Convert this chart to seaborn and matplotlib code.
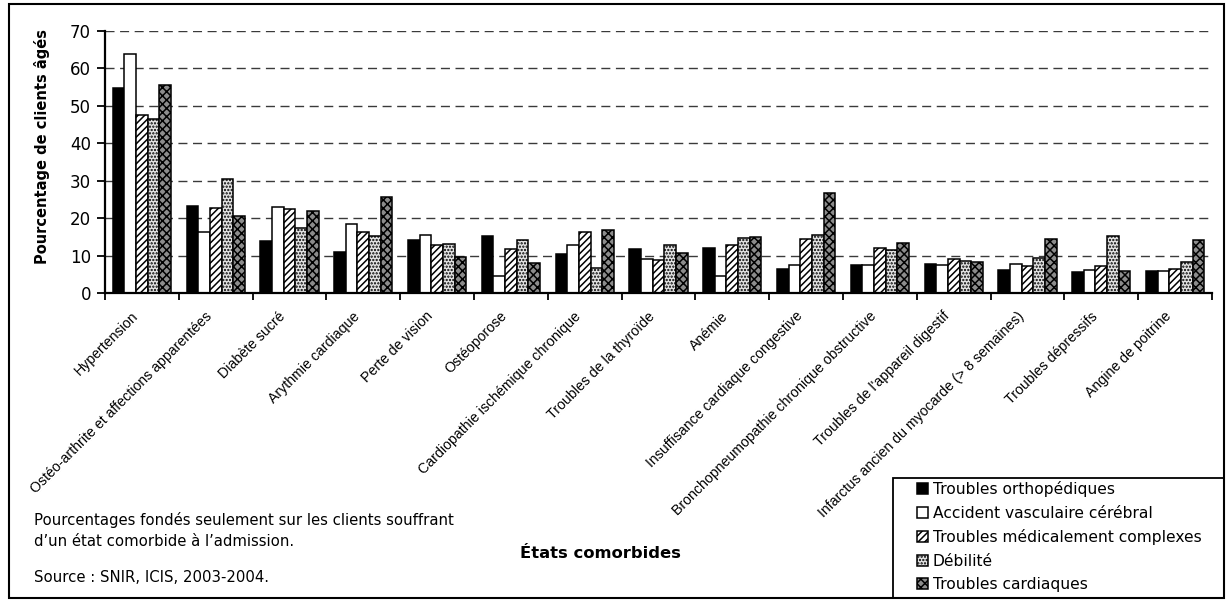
import numpy as np
import pandas as pd
import matplotlib
matplotlib.use("Agg")
import matplotlib.pyplot as plt
import matplotlib.transforms as mtransforms
import seaborn as sns
from matplotlib.patches import Patch, Rectangle

# Comorbid conditions (x categories)
categories = [
    "Hypertension",
    "Ostéo-arthrite et affections apparentées",
    "Diabète sucré",
    "Arythmie cardiaque",
    "Perte de vision",
    "Ostéoporose",
    "Cardiopathie ischémique chronique",
    "Troubles de la thyroïde",
    "Anémie",
    "Insuffisance cardiaque congestive",
    "Bronchopneumopathie chronique obstructive",
    "Troubles de l'appareil digestif",
    "Infarctus ancien du myocarde (> 8 semaines)",
    "Troubles dépressifs",
    "Angine de poitrine",
]

series = [
    "Troubles orthopédiques",
    "Accident vasculaire cérébral",
    "Troubles médicalement complexes",
    "Débilité",
    "Troubles cardiaques",
]

# Percentage of older clients, per rehabilitation group
orthopediques = [54.7, 23.3, 13.9, 11.1, 14.1, 15.4, 10.5, 11.9, 12.2, 6.4, 7.5, 7.9, 6.1, 5.7, 5.9]
avc = [63.8, 16.3, 23.0, 18.6, 15.6, 4.7, 12.9, 9.1, 4.6, 7.5, 7.5, 7.5, 7.7, 6.3, 5.9]
complexes = [47.7, 22.7, 22.4, 16.3, 12.9, 11.8, 16.3, 8.9, 13.0, 14.4, 12.2, 9.2, 7.3, 7.3, 6.5]
debilite = [46.6, 30.5, 17.4, 15.4, 13.2, 14.1, 6.7, 12.9, 14.7, 15.6, 11.6, 8.7, 9.4, 15.2, 8.3]
cardiaques = [55.5, 20.5, 22.0, 25.6, 9.8, 8.2, 16.8, 10.8, 15.1, 26.9, 13.4, 8.4, 14.4, 6.0, 14.2]

y_ticks = [0, 10, 20, 30, 40, 50, 60, 70]

values = [orthopediques, avc, complexes, debilite, cardiaques]
df = pd.DataFrame(
    [(c, s, v) for s, vals in zip(series, values) for c, v in zip(categories, vals)],
    columns=["etat", "groupe", "pct"],
)

# Monochrome fills and hatches for each group
faces = ["black", "white", "white", "#e4e4e4", "#8c8c8c"]
hatches = [None, None, "/////", ".....", "xxxx"]

sns.set_theme(style="white")
plt.rcParams["font.family"] = ["DejaVu Sans"]
plt.rcParams["text.color"] = "black"
plt.rcParams["hatch.linewidth"] = 1.1

W, H = 1228, 602
fig = plt.figure(figsize=(W / 100, H / 100), dpi=100)
x0, x1, ytop, ybot = 105, 1212, 31, 293.3
ax = fig.add_axes([x0 / W, 1 - ybot / H, (x1 - x0) / W, (ybot - ytop) / H])

sns.barplot(
    data=df, x="etat", y="pct", hue="groupe",
    order=categories, hue_order=series,
    palette=dict(zip(series, faces)),
    width=0.79, saturation=1, edgecolor="black", linewidth=1.1,
    legend=False, ax=ax,
)
for cont, fc, h in zip(ax.containers, faces, hatches):
    for p in cont:
        p.set_facecolor(fc)
        p.set_edgecolor("black")
        if h:
            p.set_hatch(h)

ax.set_xlim(-0.5, len(categories) - 0.5)
ax.set_ylim(0, 70)
ax.set_yticks(y_ticks)
ax.yaxis.grid(True, linestyle=(0, (6.5, 4)), color="#3a3a3a", linewidth=1)
ax.xaxis.grid(False)
ax.set_axisbelow(True)

for s in ["top", "right"]:
    ax.spines[s].set_visible(False)
for s in ["left", "bottom"]:
    ax.spines[s].set_color("black")
    ax.spines[s].set_linewidth(1.6)

# category boundaries carry the visible x ticks
ax.set_xticks(np.arange(-0.5, len(categories), 1), minor=True)
ax.tick_params(axis="x", which="minor", bottom=True, length=5, width=1.3, color="black", direction="out")
ax.tick_params(axis="x", which="major", bottom=True, length=0, pad=15)
ax.tick_params(axis="y", which="major", left=True, length=6, width=1.3, color="black",
               direction="out", labelsize=12, pad=4, labelcolor="black")
ax.set_xticks(range(len(categories)))
ax.set_xticklabels(categories, rotation=45, ha="right", va="center",
                   rotation_mode="anchor", fontsize=10.2, family="Liberation Sans", color="black")
shift = mtransforms.ScaledTranslation(-6 / 100, 0, fig.dpi_scale_trans)
for lab in ax.get_xticklabels():
    lab.set_transform(lab.get_transform() + shift)
ax.set_xlabel("")
ax.set_ylabel("")

fig.text(42 / W, 1 - 146 / H, "Pourcentage de clients âgés", rotation=90,
         ha="center", va="center", fontsize=10.5, fontweight="bold", color="black")
fig.text(600 / W, 1 - 553 / H, "États comorbides", ha="center", va="center",
         fontsize=11.8, fontweight="bold", color="black")

fig.text(34 / W, 1 - 520 / H, "Pourcentages fondés seulement sur les clients souffrant",
         ha="left", va="center", fontsize=10.7, color="black")
fig.text(34 / W, 1 - 541 / H, "d’un état comorbide à l’admission.",
         ha="left", va="center", fontsize=10.7, color="black")
fig.text(34 / W, 1 - 578 / H, "Source : SNIR, ICIS, 2003-2004.",
         ha="left", va="center", fontsize=10.7, color="black")

handles = [Patch(facecolor=fc, edgecolor="black", hatch=h, linewidth=1.1)
           for fc, h in zip(faces, hatches)]
fig.legend(handles, series, loc="upper left", bbox_to_anchor=(917 / W, 1 - 481 / H),
           frameon=False, fontsize=11.2, labelcolor="black",
           handlelength=0.72, handleheight=0.72,
           handletextpad=0.3, labelspacing=0.55, borderpad=0, borderaxespad=0)
fig.patches.append(Rectangle((893 / W, 1 - 598 / H), (1224 - 893) / W, (598 - 478) / H,
                             transform=fig.transFigure, fill=False, edgecolor="black",
                             linewidth=1.3))

# outer frame of the figure
fig.patches.append(Rectangle((9 / W, 1 - 598 / H), (1224 - 9) / W, (598 - 4) / H,
                             transform=fig.transFigure, fill=False, edgecolor="black",
                             linewidth=1.5))

fig.savefig("out.png", dpi=100)
